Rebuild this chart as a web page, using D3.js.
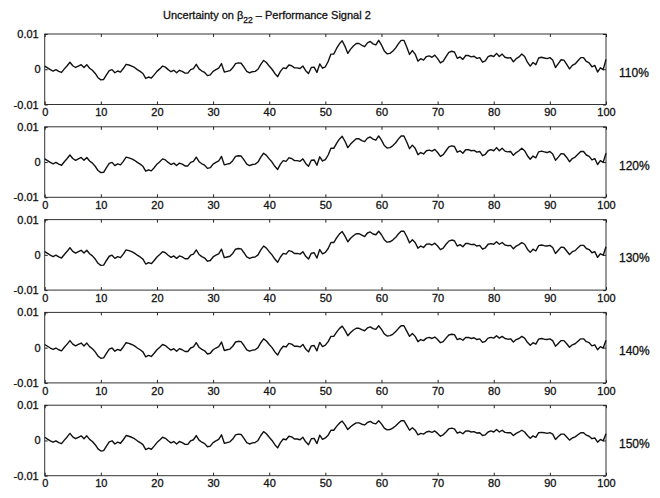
<!DOCTYPE html>
<html>
<head>
<meta charset="utf-8">
<script src="https://cdn.jsdelivr.net/npm/d3@7/dist/d3.min.js"></script>
<style>
html,body{margin:0;padding:0;background:#fff;}
svg{display:block;}
text{font-family:"Liberation Sans",Arial,Helvetica,sans-serif;fill:#111;stroke:#111;stroke-width:0.3px;}
</style>
</head>
<body>
<svg id="chart" width="660" height="498"></svg>
<script>
// ---- data (values in thousandths, sampled every 0.5 time units from 0 to 100) ----
const sampleStep = 0.5;
const panelLabels = ["110%", "120%", "130%", "140%", "150%"];
const xTickValues = [0, 10, 20, 30, 40, 50, 60, 70, 80, 90, 100];
const yTickValues = [-10, 0, 10];
const yTickLabels = ["-0.01", "0", "0.01"];
const titleMain = "Uncertainty on \u03B2";
const titleSub = "22";
const titleRest = " \u2013 Performance Signal 2";

const series110 = [0.9,0.4,-0.1,-0.5,-0.1,-0.6,-0.9,0.1,1.0,2.0,
1.0,0.5,0.9,1.3,0.5,1.3,0.3,-0.3,-1.2,-2.4,
-3.0,-2.9,-1.6,-0.4,-0.1,-1.0,-0.5,-0.8,0.2,1.4,
1.2,0.9,0.5,-0.1,-0.6,-1.2,-2.6,-2.2,-2.5,-1.6,
-0.6,0.1,0.9,0.6,-0.1,-0.7,-0.3,-1.0,-0.3,-0.6,
-1.1,-1.1,-0.1,0.2,1.4,0.1,-0.5,-0.9,-1.8,-1.6,
-0.6,-0.1,0.3,1.6,-0.8,-0.6,-0.4,0.4,1.6,1.8,
1.7,0.6,-0.6,-1.0,-0.7,-0.6,0.0,1.4,2.5,1.9,
0.9,0.0,-1.2,-2.1,-0.6,0.4,0.2,1.2,1.0,0.4,
0.4,0.2,0.9,-0.4,-1.2,0.5,0.6,-0.9,1.5,0.3,
0.7,
2.2,4.3,4.3,5.9,7.2,8.1,6.5,4.5,5.7,6.6,
7.3,7.3,6.8,6.4,7.5,7.9,7.2,6.9,8.2,6.9,
5.2,4.4,4.5,5.1,6.0,7.2,8.2,8.2,6.3,4.2,
5.3,4.3,2.3,3.0,2.6,3.6,3.8,3.4,4.0,3.0,
1.8,2.3,3.6,4.8,5.1,4.9,3.1,3.5,2.8,3.9,
3.9,3.5,3.7,3.1,3.3,2.0,2.4,3.6,3.9,3.6,
4.5,3.6,4.3,3.4,3.2,3.3,2.1,3.0,3.5,4.3,
3.6,2.0,0.9,1.9,1.3,3.2,3.4,3.2,3.0,3.3,
2.6,0.5,1.6,2.7,2.6,1.4,0.1,1.1,1.5,2.4,
3.3,3.3,2.2,1.8,0.7,1.1,-0.8,0.4,-0.1,2.8];

const series120 = [0.9,0.4,-0.1,-0.5,-0.1,-0.6,-0.9,0.1,1.0,2.0,
1.0,0.5,0.9,1.3,0.5,1.3,0.3,-0.3,-1.2,-2.4,
-3.0,-2.9,-1.6,-0.4,-0.1,-1.0,-0.5,-0.8,0.2,1.4,
1.2,0.9,0.5,-0.1,-0.6,-1.2,-2.6,-2.2,-2.5,-1.6,
-0.6,0.1,0.9,0.6,-0.1,-0.7,-0.3,-1.0,-0.3,-0.6,
-1.1,-1.1,-0.1,0.2,1.4,0.1,-0.5,-0.9,-1.8,-1.6,
-0.6,-0.1,0.3,1.6,-0.8,-0.6,-0.4,0.4,1.6,1.8,
1.7,0.6,-0.6,-1.0,-0.7,-0.6,0.0,1.4,2.5,1.9,
0.9,0.0,-1.2,-2.1,-0.6,0.4,0.2,1.2,1.0,0.4,
0.4,0.2,0.9,-0.4,-1.2,0.5,0.6,-0.9,1.5,0.3,
0.7,
2.0,3.9,3.9,5.3,6.5,7.3,5.9,4.1,5.1,5.9,
6.6,6.6,6.1,5.8,6.8,7.1,6.5,6.2,7.4,6.2,
4.7,4.0,4.1,4.6,5.4,6.5,7.4,7.4,5.7,3.8,
4.8,3.9,2.1,2.7,2.3,3.2,3.4,3.1,3.6,2.7,
1.6,2.1,3.2,4.3,4.6,4.4,2.8,3.2,2.5,3.5,
3.5,3.2,3.3,2.8,3.0,1.8,2.2,3.2,3.5,3.2,
4.1,3.2,3.9,3.1,2.9,3.0,1.9,2.7,3.2,3.9,
3.2,1.8,0.8,1.7,1.2,2.9,3.1,2.9,2.7,3.0,
2.3,0.5,1.4,2.4,2.3,1.3,0.1,1.0,1.4,2.2,
3.0,3.0,2.0,1.6,0.6,1.0,-0.7,0.4,-0.1,2.5];

const series130 = [0.9,0.4,-0.1,-0.5,-0.1,-0.6,-0.9,0.1,1.0,2.0,
1.0,0.5,0.9,1.3,0.5,1.3,0.3,-0.3,-1.2,-2.4,
-3.0,-2.9,-1.6,-0.4,-0.1,-1.0,-0.5,-0.8,0.2,1.4,
1.2,0.9,0.5,-0.1,-0.6,-1.2,-2.6,-2.2,-2.5,-1.6,
-0.6,0.1,0.9,0.6,-0.1,-0.7,-0.3,-1.0,-0.3,-0.6,
-1.1,-1.1,-0.1,0.2,1.4,0.1,-0.5,-0.9,-1.8,-1.6,
-0.6,-0.1,0.3,1.6,-0.8,-0.6,-0.4,0.4,1.6,1.8,
1.7,0.6,-0.6,-1.0,-0.7,-0.6,0.0,1.4,2.5,1.9,
0.9,0.0,-1.2,-2.1,-0.6,0.4,0.2,1.2,1.0,0.4,
0.4,0.2,0.9,-0.4,-1.2,0.5,0.6,-0.9,1.5,0.3,
0.7,
1.8,3.5,3.5,4.8,5.9,6.6,5.3,3.7,4.7,5.4,
6.0,6.0,5.6,5.2,6.2,6.5,5.9,5.7,6.7,5.7,
4.3,3.6,3.7,4.2,4.9,5.9,6.7,6.7,5.2,3.4,
4.3,3.5,1.9,2.5,2.1,3.0,3.1,2.8,3.3,2.5,
1.5,1.9,3.0,3.9,4.2,4.0,2.5,2.9,2.3,3.2,
3.2,2.9,3.0,2.5,2.7,1.6,2.0,3.0,3.2,3.0,
3.7,3.0,3.5,2.8,2.6,2.7,1.7,2.5,2.9,3.5,
3.0,1.6,0.7,1.6,1.1,2.6,2.8,2.6,2.5,2.7,
2.1,0.4,1.3,2.2,2.1,1.1,0.1,0.9,1.2,2.0,
2.7,2.7,1.8,1.5,0.6,0.9,-0.7,0.3,-0.1,2.3];

const series140 = [0.9,0.4,-0.1,-0.5,-0.1,-0.6,-0.9,0.1,1.0,2.0,
1.0,0.5,0.9,1.3,0.5,1.3,0.3,-0.3,-1.2,-2.4,
-3.0,-2.9,-1.6,-0.4,-0.1,-1.0,-0.5,-0.8,0.2,1.4,
1.2,0.9,0.5,-0.1,-0.6,-1.2,-2.6,-2.2,-2.5,-1.6,
-0.6,0.1,0.9,0.6,-0.1,-0.7,-0.3,-1.0,-0.3,-0.6,
-1.1,-1.1,-0.1,0.2,1.4,0.1,-0.5,-0.9,-1.8,-1.6,
-0.6,-0.1,0.3,1.6,-0.8,-0.6,-0.4,0.4,1.6,1.8,
1.7,0.6,-0.6,-1.0,-0.7,-0.6,0.0,1.4,2.5,1.9,
0.9,0.0,-1.2,-2.1,-0.6,0.4,0.2,1.2,1.0,0.4,
0.4,0.2,0.9,-0.4,-1.2,0.5,0.6,-0.9,1.5,0.3,
0.7,
1.7,3.2,3.2,4.4,5.4,6.1,4.9,3.4,4.3,5.0,
5.5,5.5,5.1,4.8,5.6,5.9,5.4,5.2,6.2,5.2,
3.9,3.3,3.4,3.8,4.5,5.4,6.2,6.2,4.7,3.2,
4.0,3.2,1.7,2.3,2.0,2.7,2.9,2.6,3.0,2.3,
1.4,1.7,2.7,3.6,3.8,3.7,2.3,2.6,2.1,2.9,
2.9,2.6,2.8,2.3,2.5,1.5,1.8,2.7,2.9,2.7,
3.4,2.7,3.2,2.6,2.4,2.5,1.6,2.3,2.6,3.2,
2.7,1.5,0.7,1.4,1.0,2.4,2.6,2.4,2.3,2.5,
2.0,0.4,1.2,2.0,2.0,1.1,0.1,0.8,1.1,1.8,
2.5,2.5,1.7,1.4,0.5,0.8,-0.6,0.3,-0.1,2.1];

const series150 = [0.9,0.4,-0.1,-0.5,-0.1,-0.6,-0.9,0.1,1.0,2.0,
1.0,0.5,0.9,1.3,0.5,1.3,0.3,-0.3,-1.2,-2.4,
-3.0,-2.9,-1.6,-0.4,-0.1,-1.0,-0.5,-0.8,0.2,1.4,
1.2,0.9,0.5,-0.1,-0.6,-1.2,-2.6,-2.2,-2.5,-1.6,
-0.6,0.1,0.9,0.6,-0.1,-0.7,-0.3,-1.0,-0.3,-0.6,
-1.1,-1.1,-0.1,0.2,1.4,0.1,-0.5,-0.9,-1.8,-1.6,
-0.6,-0.1,0.3,1.6,-0.8,-0.6,-0.4,0.4,1.6,1.8,
1.7,0.6,-0.6,-1.0,-0.7,-0.6,0.0,1.4,2.5,1.9,
0.9,0.0,-1.2,-2.1,-0.6,0.4,0.2,1.2,1.0,0.4,
0.4,0.2,0.9,-0.4,-1.2,0.5,0.6,-0.9,1.5,0.3,
0.7,
1.5,2.9,2.9,4.0,4.9,5.5,4.4,3.1,3.9,4.5,
5.0,5.0,4.6,4.4,5.1,5.4,4.9,4.7,5.6,4.7,
3.5,3.0,3.1,3.5,4.1,4.9,5.6,5.6,4.3,2.9,
3.6,2.9,1.6,2.0,1.8,2.4,2.6,2.3,2.7,2.0,
1.2,1.6,2.4,3.3,3.5,3.3,2.1,2.4,1.9,2.7,
2.7,2.4,2.5,2.1,2.2,1.4,1.6,2.4,2.7,2.4,
3.1,2.4,2.9,2.3,2.2,2.2,1.4,2.0,2.4,2.9,
2.4,1.4,0.6,1.3,0.9,2.2,2.3,2.2,2.0,2.2,
1.8,0.3,1.1,1.8,1.8,1.0,0.1,0.7,1.0,1.6,
2.2,2.2,1.5,1.2,0.5,0.7,-0.5,0.3,-0.1,1.9];

const allSeries = [series110, series120, series130, series140, series150];

// ---- layout ----
const svg = d3.select("#chart");
const left = 44.7, right = 606;
const panelTop0 = 34, panelStep = 92.8, panelH = 70.5;

const x = d3.scaleLinear().domain([0, 100]).range([left, right]);

// title
const title = svg.append("text")
  .attr("x", 163).attr("y", 19)
  .style("font-size", "11px");
title.append("tspan").text(titleMain);
title.append("tspan").attr("dy", 4).style("font-size", "8.5px").text(titleSub);
title.append("tspan").attr("dy", -4).text(titleRest);

allSeries.forEach((vals, i) => {
  const top = panelTop0 + i * panelStep;
  const bottom = top + panelH;
  const y = d3.scaleLinear().domain([-10, 10]).range([bottom, top]);
  const g = svg.append("g");

  // box
  g.append("rect")
    .attr("x", left).attr("y", top)
    .attr("width", right - left).attr("height", panelH)
    .attr("fill", "none").attr("stroke", "#333").attr("stroke-width", 1);

  const fmtY = v => yTickLabels[yTickValues.indexOf(v)];

  // bottom axis with labels (inward ticks)
  const ax = g.append("g").attr("transform", `translate(0,${bottom})`)
    .call(d3.axisBottom(x).tickValues(xTickValues).tickSize(-3).tickPadding(4).tickFormat(d3.format("d")));
  // top axis ticks
  const axT = g.append("g").attr("transform", `translate(0,${top})`)
    .call(d3.axisTop(x).tickValues(xTickValues).tickSize(-3).tickFormat(""));
  // left axis with labels
  const ay = g.append("g").attr("transform", `translate(${left},0)`)
    .call(d3.axisLeft(y).tickValues(yTickValues).tickSize(-3).tickPadding(6).tickFormat(fmtY));
  // right axis ticks
  const ayR = g.append("g").attr("transform", `translate(${right},0)`)
    .call(d3.axisRight(y).tickValues(yTickValues).tickSize(-3).tickFormat(""));

  [ax, axT, ay, ayR].forEach(a => {
    a.select(".domain").remove();
    a.selectAll("line").attr("stroke", "#222");
    a.selectAll("text").style("font-size", "11px")
      .style("font-family", "'Liberation Sans', Arial, sans-serif")
      .attr("fill", "#111");
  });
  // zero label sits slightly closer to the axis
  ay.selectAll(".tick text").filter(d => d === 0).attr("x", -4);

  // series line
  const line = d3.line()
    .x((d, k) => x(k * sampleStep))
    .y(d => y(d));
  g.append("path")
    .datum(vals)
    .attr("d", line)
    .attr("fill", "none")
    .attr("stroke", "#111")
    .attr("stroke-width", 1.4)
    .attr("stroke-linejoin", "round");

  // panel label
  g.append("text")
    .attr("x", 619).attr("y", y(0) + 7.5)
    .style("font-size", "12px")
    .text(panelLabels[i]);
});
</script>
</body>
</html>
